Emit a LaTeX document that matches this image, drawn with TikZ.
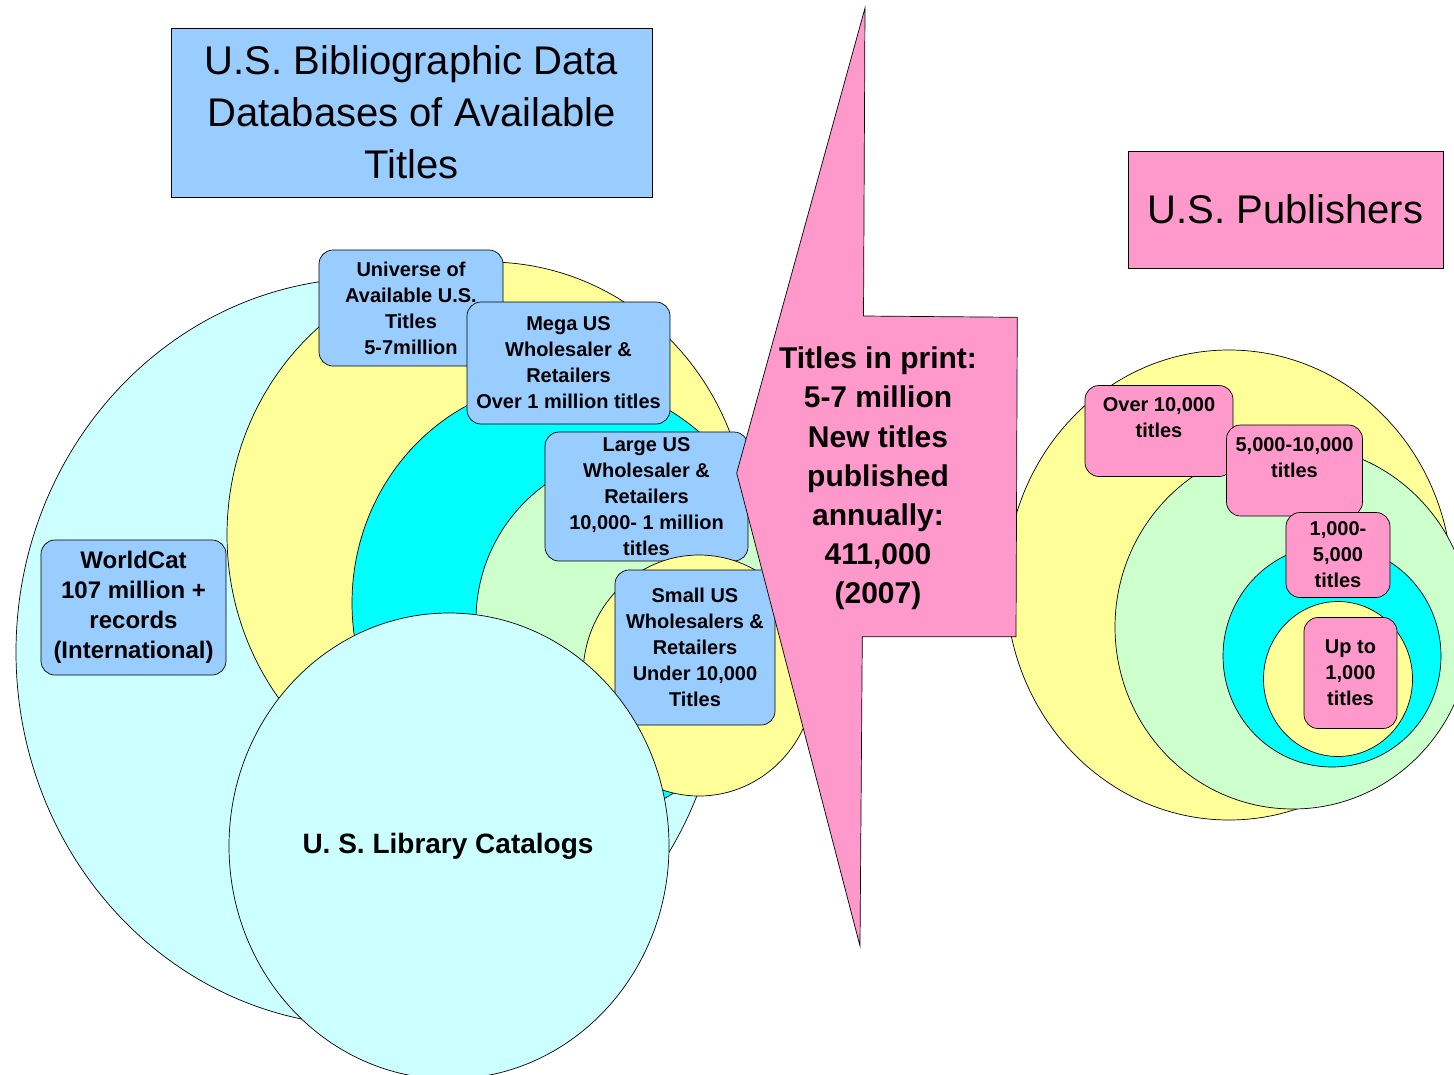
\documentclass[tikz,border=0pt]{standalone}
\usepackage{fontspec}
\setmainfont{Liberation Sans}
\definecolor{paleCyan}{HTML}{CCFFFF}
\definecolor{paleYellow}{HTML}{FFFF99}
\definecolor{aquaFill}{HTML}{00FFFF}
\definecolor{paleGreen}{HTML}{CCFFCC}
\definecolor{boxBlue}{HTML}{99CCFF}
\definecolor{pubPink}{HTML}{FF99CC}
\tikzset{
  ring/.style={draw=black, line width=0.7pt},
  bluebox/.style={rectangle, rounded corners=14pt, draw=black, line width=0.7pt, fill=boxBlue,
    align=center, inner sep=0pt, font=\bfseries\fontsize{20}{26}\selectfont},
  pinkbox/.style={bluebox, fill=pubPink},
  headbox/.style={rectangle, draw=black, line width=0.7pt, align=center, inner sep=0pt,
    font=\fontsize{40}{52}\selectfont}
}
\begin{document}
\begin{tikzpicture}[x=1pt, y=-1pt]
  \useasboundingbox (0,0) rectangle (1454,1074);

  \filldraw [ring, fill=paleCyan] (370,652) ellipse [x radius=354pt, y radius=374pt];
  \filldraw [ring, fill=paleYellow] (488,535) ellipse [x radius=261pt, y radius=273pt];
  \filldraw [ring, fill=aquaFill] (564,603) ellipse [x radius=212pt, y radius=222pt];
  \filldraw [ring, fill=paleGreen] (643,620) ellipse [x radius=167pt, y radius=167pt];

  \node (universe) [bluebox, minimum width=184pt, minimum height=116pt] at (411,308)
    {Universe of\\Available U.S.\\Titles\\5-7million};
  \node (mega) [bluebox, minimum width=203pt, minimum height=122pt] at (568.5,363)
    {Mega US\\Wholesaler \&\\Retailers\\Over 1 million titles};
  \node (large) [bluebox, minimum width=203pt, minimum height=129pt] at (646.5,496.5)
    {Large US\\Wholesaler \&\\Retailers\\10,000- 1 million\\titles};

  \filldraw [ring, fill=paleYellow] (699,675.5) ellipse [x radius=116pt, y radius=120.5pt];
  \node (small) [bluebox, minimum width=160pt, minimum height=155pt] at (695,647.5)
    {Small US\\Wholesalers \&\\Retailers\\Under 10,000\\Titles};

  \filldraw [ring, fill=paleCyan] (449,846) ellipse [x radius=220pt, y radius=233pt];
  \node (catalogs) [font=\bfseries\fontsize{28}{34}\selectfont] at (448,846) {U. S. Library Catalogs};

  \node (worldcat) [bluebox, minimum width=185pt, minimum height=135pt,
    font=\bfseries\fontsize{24}{30}\selectfont] at (133.5,607.5)
    {WorldCat\\107 million +\\records\\(International)};

  \filldraw [ring, fill=paleYellow] (1229,585) ellipse [x radius=223pt, y radius=235pt];
  \filldraw [ring, fill=paleGreen] (1293,627) ellipse [x radius=178pt, y radius=182pt];
  \node (over) [pinkbox, minimum width=148pt, minimum height=91pt] at (1159,431)
    {Over 10,000\\titles\\ \mbox{}};
  \node (fivek) [pinkbox, minimum width=136pt, minimum height=91pt] at (1294.5,470.5)
    {5,000-10,000\\titles\\ \mbox{}};
  \filldraw [ring, fill=aquaFill] (1332,656) ellipse [x radius=109pt, y radius=111pt];
  \node (onek) [pinkbox, minimum width=104pt, minimum height=85pt] at (1338,555)
    {1,000-\\5,000\\titles};
  \filldraw [ring, fill=paleYellow] (1338,679) ellipse [x radius=74.5pt, y radius=77.5pt];
  \node (upto) [pinkbox, minimum width=93pt, minimum height=111pt] at (1350.5,673)
    {Up to\\1,000\\titles};

  \filldraw [ring, fill=pubPink] (736.7,473) -- (865,8) -- (863.5,316) -- (1017.3,317.3)
    -- (1016,636.7) -- (862.3,636.7) -- (860,946) -- cycle;
  \node (inprint) [align=center, font=\bfseries\fontsize{30}{39.2}\selectfont] at (878,478.5)
    {Titles in print:\\5-7 million\\New titles\\published\\annually:\\411,000\\(2007)};

  \node (bibdata) [headbox, fill=boxBlue, minimum width=481pt, minimum height=169pt] at (411.5,112.5)
    {U.S. Bibliographic Data\\Databases of Available\\Titles};
  \node (publishers) [headbox, fill=pubPink, minimum width=315pt, minimum height=117pt] at (1285.5,209.5)
    {U.S. Publishers};
\end{tikzpicture}
\end{document}
